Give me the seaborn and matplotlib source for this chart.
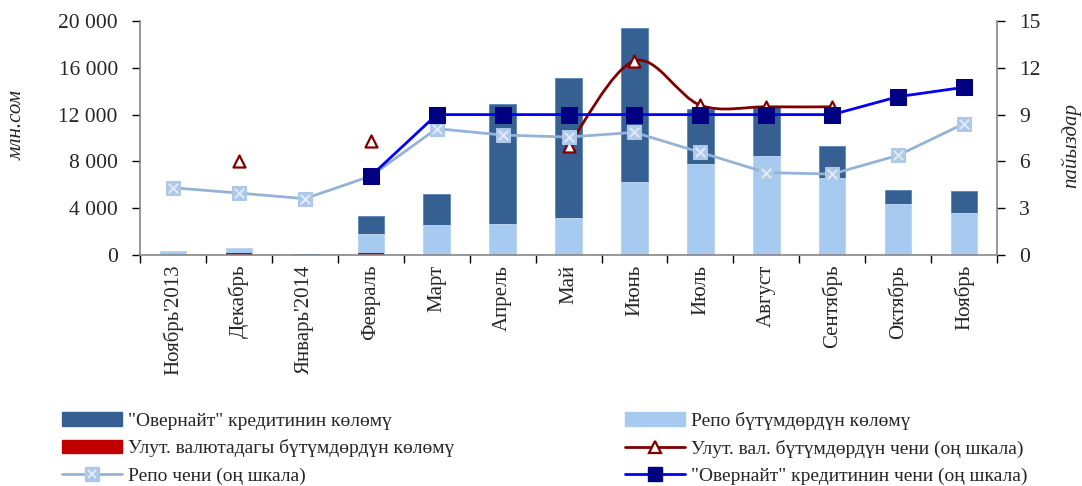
"""
Объемы и ставки на межбанковском кредитном рынке (ноябрь 2013 - ноябрь 2014).
"""

import numpy as np
import pandas as pd
import matplotlib
matplotlib.use('Agg')
import matplotlib.pyplot as plt
import seaborn as sns
from matplotlib.path import Path
from matplotlib.patches import PathPatch, Patch
from matplotlib.lines import Line2D
from matplotlib.ticker import FuncFormatter, MultipleLocator, FixedLocator

months = ["Ноябрь'2013", 'Декабрь', "Январь'2014", 'Февраль', 'Март', 'Апрель', 'Май',
          'Июнь', 'Июль', 'Август', 'Сентябрь', 'Октябрь', 'Ноябрь']

# объемы, млн сом
vol_fx = [0, 150, 0, 150, 0, 0, 40, 40, 20, 0, 0, 0, 0]
vol_repo = [300, 450, 0, 1650, 2560, 2620, 3120, 6230, 7760, 8460, 6610, 4330, 3560]
vol_overnight = [0, 0, 60, 1530, 2680, 10260, 11940, 13100, 4670, 4160, 2730, 1200, 1880]

# ставки, % (правая шкала)
rate_repo = [4.31, 3.97, 3.61, 5.06, 8.1, 7.69, 7.56, 7.86, 6.58, 5.28, 5.19, 6.39, 8.42]
rate_overnight = [np.nan, np.nan, np.nan, 5.06, 9.0, 9.0, 9.0, 9.0, 9.0, 9.0, 9.0, 10.15, 10.75]
rate_fx = [np.nan, 6.0, np.nan, 7.3, np.nan, np.nan, 7.0, 12.45, 9.6, 9.5, 9.5, np.nan, np.nan]

labels = ['"Овернайт" кредитинин көлөмү',
          'Улут. валютадагы бүтүмдөрдүн көлөмү',
          'Репо чени (оң шкала)',
          'Репо бүтүмдөрдүн көлөмү',
          'Улут. вал. бүтүмдөрдүн чени (оң шкала)',
          '"Овернайт" кредитинин чени (оң шкала)']

C_DARK = '#376092'
C_LIGHT = '#A6CAF0'
C_RED = '#C00000'
C_REPO = '#95B3D7'
C_ON = '#0000FF'
C_ON_MK = '#000080'
C_FX = '#800000'
GREY = '#868686'

sns.set_theme(style='white')
plt.rcParams['font.family'] = ['Liberation Serif', 'DejaVu Serif']

df = pd.DataFrame({'month': months, 'fx': vol_fx, 'repo': vol_repo, 'on': vol_overnight})
df['lvl_fx'] = df['fx']
df['lvl_repo'] = df['fx'] + df['repo']
df['lvl_on'] = df['lvl_repo'] + df['on']
x_pos = np.arange(len(months))

fig = plt.figure(figsize=(10.82, 4.86), dpi=100)
ax = fig.add_axes([0.1294, 0.4753, 0.7921, 0.4815])

# стек: рисуем накопленные уровни сверху вниз
sns.barplot(data=df, x='month', y='lvl_on', color=C_DARK, saturation=1, width=0.4,
            edgecolor='#5B84B8', linewidth=0.6, ax=ax)
sns.barplot(data=df, x='month', y='lvl_repo', color=C_LIGHT, saturation=1, width=0.4,
            edgecolor='#C8DDF5', linewidth=0.6, ax=ax)
sns.barplot(data=df, x='month', y='lvl_fx', color=C_RED, saturation=1, width=0.4,
            linewidth=0, ax=ax)

ax.set_ylim(0, 20000)
ax.yaxis.set_major_locator(MultipleLocator(4000))
ax.yaxis.set_major_formatter(FuncFormatter(lambda v, p: f'{int(v):,}'.replace(',', ' ')))
ax.set_xlabel('')
ax.set_ylabel('')

ax2 = ax.twinx()

# ставка по сделкам в нац. валюте: сглаженная линия май-сентябрь
fx_arr = np.array(rate_fx)
seg = [i for i in range(6, 11)]
pts = np.array([[x_pos[i], fx_arr[i]] for i in seg])
verts = [pts[0]]
codes = [Path.MOVETO]
for k in range(len(pts) - 1):
    p0 = pts[k - 1] if k > 0 else pts[k]
    p1, p2 = pts[k], pts[k + 1]
    p3 = pts[k + 2] if k + 2 < len(pts) else pts[k + 1]
    verts += [p1 + (p2 - p0) / 6, p2 - (p3 - p1) / 6, p2]
    codes += [Path.CURVE4] * 3
ax2.add_patch(PathPatch(Path(verts, codes), fill=False, ec=C_FX, lw=2, zorder=1.5))
sns.scatterplot(x=x_pos, y=rate_fx, marker='^', s=75, facecolor='white', edgecolor=C_FX,
                linewidth=1.6, ax=ax2, zorder=1.8)

sns.lineplot(x=x_pos, y=rate_repo, color=C_REPO, lw=2, marker='s', markersize=10,
             markerfacecolor='#AEC8E8', markeredgecolor='#AEC8E8', ax=ax2, zorder=2)
sns.scatterplot(x=x_pos, y=rate_repo, marker='x', s=45, color='#E3ECF7', linewidth=1.4,
                ax=ax2, zorder=2.1)
sns.lineplot(x=x_pos, y=rate_overnight, color=C_ON, lw=2, marker='s', markersize=11,
             markerfacecolor=C_ON_MK, markeredgecolor=C_ON_MK, ax=ax2, zorder=3)

ax2.set_ylim(0, 15)
ax2.yaxis.set_major_locator(MultipleLocator(3))
ax.set_xlim(-0.5, len(months) - 0.5)
ax2.set_ylabel('')

# оси
for a in (ax, ax2):
    a.spines['top'].set_visible(False)
    a.grid(False)
ax.spines['right'].set_visible(False)
ax2.spines['left'].set_visible(False)
ax2.spines['bottom'].set_visible(False)
for sp in (ax.spines['left'], ax.spines['bottom'], ax2.spines['right']):
    sp.set_color(GREY)
    sp.set_linewidth(1.2)

ax.xaxis.set_minor_locator(FixedLocator(np.arange(-0.5, len(months), 1)))
ax.tick_params(axis='x', which='major', length=0, pad=7, labelsize=15, rotation=90)
ax.tick_params(axis='x', which='minor', length=6, color='black', width=1, direction='out', bottom=True)
ax.tick_params(axis='y', length=6, color='black', width=1, direction='out', left=True,
               labelsize=15.5, pad=10)
ax2.tick_params(axis='y', length=6, color='black', width=1, direction='out', right=True,
                labelsize=15.5, pad=10)

fig.text(17 / 1082, 1 - 125 / 486, 'млн.сом', rotation=90, ha='center', va='center',
         style='italic', fontsize=15)
fig.text(1071 / 1082, 1 - 145 / 486, 'пайыздар', rotation=90, ha='center', va='center',
         style='italic', fontsize=15)

# легенда в две колонки
h_on = Patch(color=C_DARK)
h_fx = Patch(color=C_RED)
h_repo_rate = (Line2D([], [], color=C_REPO, lw=2, marker='s', markersize=10,
                      mfc='#AEC8E8', mec='#AEC8E8'),
               Line2D([], [], ls='', marker='x', markersize=6, mew=1.4, color='#E3ECF7'))
h_repo = Patch(color=C_LIGHT)
h_fx_rate = Line2D([], [], color=C_FX, lw=2, marker='^', markersize=9, mfc='white',
                   mec=C_FX, mew=1.6)
h_on_rate = Line2D([], [], color=C_ON, lw=2, marker='s', markersize=10, mfc=C_ON_MK, mec=C_ON_MK)

leg_kw = dict(frameon=False, fontsize=14, handlelength=3.1, handletextpad=0.3,
              labelspacing=0.5, borderpad=0, borderaxespad=0, loc='upper left')
fig.legend([h_on, h_fx, h_repo_rate], labels[:3], bbox_to_anchor=(62 / 1082, 1 - 412 / 486), **leg_kw)
fig.legend([h_repo, h_fx_rate, h_on_rate], labels[3:], bbox_to_anchor=(625 / 1082, 1 - 412 / 486), **leg_kw)

fig.savefig('out.png', dpi=100)
